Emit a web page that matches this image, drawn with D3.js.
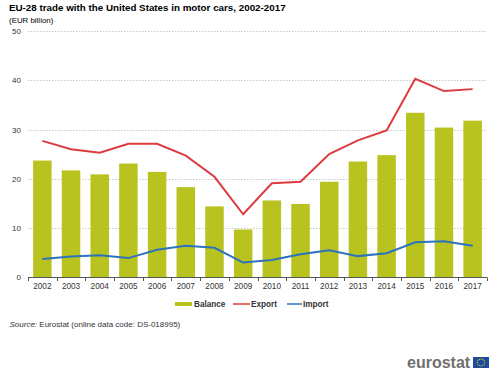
<!DOCTYPE html>
<html><head><meta charset="utf-8">
<script src="https://cdn.jsdelivr.net/npm/d3@7"></script>
<style>body{margin:0;background:#fff}svg{display:block;font-family:Arial,"Liberation Sans",sans-serif}</style>
</head><body>
<svg id="c" width="500" height="379"></svg>
<script>
const years = ["2002","2003","2004","2005","2006","2007","2008","2009","2010","2011","2012","2013","2014","2015","2016","2017"];
const balance = [23.7,21.7,20.9,23.1,21.4,18.3,14.4,9.7,15.6,14.9,19.4,23.5,24.8,33.4,30.4,31.8];
const exportVals = [27.7,26.0,25.3,27.1,27.1,24.7,20.4,12.8,19.1,19.4,25.0,27.8,29.8,40.3,37.8,38.2];
const importVals = [3.7,4.2,4.5,3.9,5.6,6.4,6.0,3.0,3.5,4.7,5.5,4.3,4.9,7.1,7.3,6.4];
const yTicks = [0,10,20,30,40,50];

const svg = d3.select("#c");
const x = d3.scaleBand().domain(years).range([28,487]).paddingInner(0.355).paddingOuter(0.1775);
const y = d3.scaleLinear().domain([0,50]).range([277.3,31]);

// title
svg.append("text").attr("x",9).attr("y",10.5).attr("font-size",9.8).attr("font-weight","bold").attr("fill","#000")
  .text("EU-28 trade with the United States in motor cars, 2002-2017");
svg.append("text").attr("x",9).attr("y",22.5).attr("font-size",7.9).attr("fill","#000").text("(EUR billion)");

// grid
svg.append("g").selectAll("line").data(yTicks.filter(d=>d>0)).join("line")
  .attr("x1",28).attr("x2",487).attr("y1",d=>Math.round(y(d))+0.5).attr("y2",d=>Math.round(y(d))+0.5)
  .attr("stroke","#c8c8c8").attr("stroke-dasharray","1.5,1.5").attr("stroke-width",1);

// y labels
const yAxis = d3.axisLeft(y).tickValues(yTicks).tickSize(0).tickPadding(0);
const gy = svg.append("g").attr("transform","translate(21,0)").call(yAxis);
gy.select(".domain").remove();
gy.selectAll("text").attr("font-size",8).attr("fill","#333").attr("font-family","Arial,'Liberation Sans',sans-serif");

// bars
svg.append("g").selectAll("rect").data(years).join("rect")
  .attr("x",d=>x(d)).attr("width",x.bandwidth())
  .attr("y",(d,i)=>y(balance[i])).attr("height",(d,i)=>y(0)-y(balance[i]))
  .attr("fill","#b9c31f");

// lines
const line = d3.line().x((d,i)=>x(years[i])+x.bandwidth()/2).y(d=>y(d));
svg.append("path").datum(exportVals).attr("d",line).attr("fill","none").attr("stroke","#dd3b3f").attr("stroke-width",2);
svg.append("path").datum(importVals).attr("d",line).attr("fill","none").attr("stroke","#2c73bd").attr("stroke-width",2);

// x axis
const step = x.step();
const bounds = d3.range(years.length+1).map(i=>28+i*step);
svg.append("line").attr("x1",28).attr("x2",487).attr("y1",277.5).attr("y2",277.5).attr("stroke","#555").attr("stroke-width",1);
svg.append("g").selectAll("line").data(bounds).join("line")
  .attr("x1",d=>Math.round(d)+0.5).attr("x2",d=>Math.round(d)+0.5).attr("y1",277.5).attr("y2",281)
  .attr("stroke","#555");
const xAxis = d3.axisBottom(x).tickSize(0).tickPadding(0);
const gx = svg.append("g").attr("transform","translate(0,283)").call(xAxis);
gx.select(".domain").remove();
gx.selectAll("text").attr("font-size",8.2).attr("fill","#333").attr("dy","0.71em").attr("font-family","Arial,'Liberation Sans',sans-serif");

// legend
const leg = svg.append("g").attr("font-size",8.2).attr("font-weight","bold").attr("fill","#333");
leg.append("rect").attr("x",175).attr("y",302).attr("width",17).attr("height",4).attr("fill","#b9c31f");
leg.append("text").attr("x",194).attr("y",306.5).text("Balance");
leg.append("line").attr("x1",233).attr("x2",250).attr("y1",304).attr("y2",304).attr("stroke","#dd3b3f").attr("stroke-width",1.5);
leg.append("text").attr("x",251).attr("y",306.5).text("Export");
leg.append("line").attr("x1",287).attr("x2",302).attr("y1",304).attr("y2",304).attr("stroke","#2c73bd").attr("stroke-width",1.5);
leg.append("text").attr("x",303).attr("y",306.5).text("Import");

// source
const src = svg.append("text").attr("x",9.5).attr("y",327).attr("font-size",8).attr("fill","#333");
src.append("tspan").attr("font-style","italic").text("Source:");
src.append("tspan").text(" Eurostat (online data code: DS-018995)");

// logo
svg.append("text").attr("x",407).attr("y",367.5).attr("font-size",16).attr("font-weight","bold").attr("fill","#707070").text("eurostat");
svg.append("rect").attr("x",473).attr("y",357).attr("width",16).attr("height",11).attr("fill","#1b4aa0");
svg.append("g").selectAll("circle").data(d3.range(12)).join("circle")
  .attr("cx",d=>481+3.6*Math.cos(d*Math.PI/6)).attr("cy",d=>362.5+3.6*Math.sin(d*Math.PI/6)).attr("r",0.6).attr("fill","#f5d000");
</script>
</body></html>
